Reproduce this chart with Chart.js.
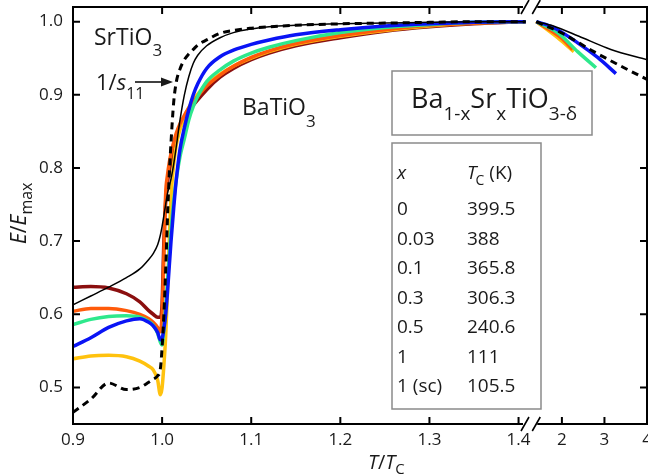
<!DOCTYPE html>
<html>
<head>
<meta charset="utf-8">
<script src="https://cdn.jsdelivr.net/npm/chart.js@4.4.1/dist/chart.umd.min.js"></script>
<style>
  html, body { margin: 0; padding: 0; background: #fff; }
  canvas { display: block; }
</style>
</head>
<body>
<canvas id="chart" width="648" height="474"></canvas>
<script>
// T/Tc grid for the left (expanded) part of the axis
const tLeft = [0.9, 0.92, 0.94, 0.96, 0.975, 0.985, 0.99, 0.995, 0.998, 1.0, 1.002, 1.004, 1.006, 1.008, 1.01, 1.013, 1.016, 1.02, 1.025, 1.03, 1.035, 1.04, 1.05, 1.065, 1.08, 1.1, 1.12, 1.15, 1.2, 1.25, 1.3, 1.35, 1.408];

// E/Emax on that grid
const eX0    = [0.637, 0.638, 0.636, 0.628, 0.617, 0.605, 0.600, 0.596, 0.596, 0.615, 0.700, 0.755, 0.780, 0.795, 0.808, 0.826, 0.840, 0.855, 0.868, 0.878, 0.886, 0.893, 0.907, 0.924, 0.936, 0.948, 0.957, 0.967, 0.978, 0.987, 0.993, 0.997, 1.0];
const eX003  = [0.604, 0.608, 0.608, 0.605, 0.600, 0.594, 0.589, 0.582, 0.576, 0.600, 0.680, 0.765, 0.790, 0.807, 0.820, 0.835, 0.848, 0.860, 0.872, 0.882, 0.890, 0.898, 0.912, 0.927, 0.939, 0.951, 0.960, 0.970, 0.981, 0.989, 0.995, 0.998, 1.0];
const eX01   = [0.539, 0.543, 0.544, 0.542, 0.536, 0.529, 0.524, 0.510, 0.490, 0.500, 0.530, 0.570, 0.630, 0.700, 0.760, 0.805, 0.832, 0.852, 0.870, 0.883, 0.893, 0.901, 0.914, 0.928, 0.939, 0.950, 0.959, 0.969, 0.980, 0.988, 0.994, 0.998, 1.0];
const eX03   = [0.586, 0.593, 0.597, 0.598, 0.596, 0.590, 0.585, 0.574, 0.562, 0.558, 0.580, 0.610, 0.645, 0.680, 0.715, 0.755, 0.785, 0.815, 0.840, 0.866, 0.884, 0.898, 0.918, 0.934, 0.946, 0.957, 0.965, 0.974, 0.985, 0.992, 0.996, 0.999, 1.0];
const eX05   = [0.556, 0.568, 0.582, 0.591, 0.594, 0.589, 0.584, 0.575, 0.565, 0.567, 0.580, 0.600, 0.630, 0.665, 0.700, 0.745, 0.785, 0.825, 0.855, 0.880, 0.900, 0.915, 0.936, 0.952, 0.961, 0.969, 0.975, 0.982, 0.989, 0.994, 0.997, 0.999, 1.0];
const eX1    = [0.613, 0.625, 0.637, 0.650, 0.662, 0.675, 0.683, 0.695, 0.708, 0.720, 0.735, 0.750, 0.765, 0.775, 0.785, 0.805, 0.830, 0.865, 0.900, 0.925, 0.943, 0.954, 0.967, 0.978, 0.985, 0.990, 0.993, 0.995, 0.997, 0.998, 0.999, 1.0, 1.0];
const eS11   = [0.466, 0.484, 0.506, 0.497, 0.500, 0.507, 0.511, 0.516, 0.525, 0.555, 0.600, 0.660, 0.730, 0.790, 0.835, 0.890, 0.918, 0.935, 0.948, 0.956, 0.962, 0.968, 0.975, 0.984, 0.988, 0.991, 0.993, 0.995, 0.997, 0.998, 0.999, 1.0, 1.0];

// compressed part of the axis (T/Tc from 1.4 to 4)
const tRX0 = [1.4, 1.8, 2.1],              eRX0 = [1.0, 0.985, 0.972];
const tRX003 = [1.4, 1.98, 2.25],          eRX003 = [1.0, 0.978, 0.962];
const tRX01 = [1.4, 1.9, 2.28],            eRX01 = [1.0, 0.978, 0.959];
const tRX03 = [1.4, 1.9, 2.37, 2.8],       eRX03 = [1.0, 0.985, 0.959, 0.937];
const tRX05 = [1.4, 1.8, 2.37, 2.84, 3.27], eRX05 = [1.0, 0.992, 0.971, 0.951, 0.929];
const tRX1 = [1.4, 1.8, 2.4, 3.15, 4.0],    eRX1 = [1.0, 0.994, 0.98, 0.962, 0.948];
const tRS11 = [1.4, 1.55, 1.98, 2.75, 3.46, 4.0], eRS11 = [1.0, 0.996, 0.985, 0.959, 0.937, 0.921];

const xTicksLeft = [0.9, 1.0, 1.1, 1.2, 1.3, 1.4];
const xTicksRight = [2, 3, 4];
const yTicks = [0.5, 0.6, 0.7, 0.8, 0.9, 1.0];

const tableX = ['0', '0.03', '0.1', '0.3', '0.5', '1', '1 (sc)'];
const tableTc = ['399.5', '388', '365.8', '306.3', '240.6', '111', '105.5'];

// axis break: right part is squeezed after 1.42
const BREAK_T = 1.4, BREAK_U = 1.42, SQUEEZE = 0.04775;
const toU = (t, right) => right ? BREAK_U + (t - BREAK_T) * SQUEEZE : t;

function series(eLeft, tR, eR) {
  const pts = tLeft.map((t, i) => ({ x: toU(t, false), y: eLeft[i] }));
  pts.push({ x: 1.414, y: null });
  tR.forEach((t, i) => pts.push({ x: toU(t, true), y: eR[i] }));
  return pts;
}

const FONT = '"Open Sans", sans-serif';
const TXT = '#1a1a1a';

function line(label, data, color, width, dash) {
  return {
    label, data,
    borderColor: color, backgroundColor: color,
    borderWidth: width, borderDash: dash || [],
    showLine: true, pointRadius: 0,
    cubicInterpolationMode: 'monotone', spanGaps: false
  };
}

function runs(ctx, x, y, parts) {
  for (const p of parts) {
    ctx.font = p.f + ' ' + FONT;
    ctx.fillText(p.t, x, y + (p.dy || 0));
    x += ctx.measureText(p.t).width + (p.gap || 0);
  }
}

const decor = {
  id: 'decor',
  afterDatasetsDraw(chart) {
    const { ctx, chartArea: a, scales: { x, y } } = chart;
    ctx.save();
    ctx.fillStyle = TXT;
    ctx.textAlign = 'left';
    ctx.textBaseline = 'alphabetic';

    // frame with the axis break
    const gL = x.getPixelForValue(1.405), gR = x.getPixelForValue(1.421);
    ctx.strokeStyle = '#000';
    ctx.lineWidth = 2;
    ctx.beginPath();
    ctx.moveTo(a.left, a.top); ctx.lineTo(a.left, a.bottom);
    ctx.moveTo(a.right, a.top); ctx.lineTo(a.right, a.bottom);
    for (const yy of [a.top, a.bottom]) {
      ctx.moveTo(a.left - 1, yy); ctx.lineTo(gL, yy);
      ctx.moveTo(gR, yy); ctx.lineTo(a.right + 1, yy);
    }
    ctx.stroke();
    ctx.lineWidth = 1.6;
    ctx.beginPath();
    for (const yy of [a.top, a.bottom]) {
      for (const cx of [gL + 2, gR - 1]) {
        ctx.moveTo(cx - 4, yy + 7); ctx.lineTo(cx + 4, yy - 7);
      }
    }
    ctx.stroke();

    // inward ticks
    ctx.lineWidth = 2;
    ctx.beginPath();
    for (const t of x.ticks) {
      const px = x.getPixelForValue(t.value);
      if (px <= a.left + 1 || px >= a.right - 1) continue;
      ctx.moveTo(px, a.bottom); ctx.lineTo(px, a.bottom - 7);
      ctx.moveTo(px, a.top); ctx.lineTo(px, a.top + 7);
    }
    for (const t of y.ticks) {
      const py = y.getPixelForValue(t.value);
      ctx.moveTo(a.left, py); ctx.lineTo(a.left + 7, py);
      ctx.moveTo(a.right, py); ctx.lineTo(a.right - 7, py);
    }
    ctx.stroke();

    // labels in the plot
    runs(ctx, 94, 45, [{ t: 'SrTiO', f: '23px' }, { t: '3', f: '17px', dy: 11 }]);
    runs(ctx, 96, 90, [{ t: '1/', f: '22px' }, { t: 's', f: 'italic 22px' }, { t: '11', f: '16px', dy: 9 }]);
    runs(ctx, 242, 115, [{ t: 'BaTiO', f: '23px' }, { t: '3', f: '17px', dy: 12 }]);

    ctx.strokeStyle = '#000';
    ctx.lineWidth = 1.5;
    ctx.beginPath(); ctx.moveTo(135, 82); ctx.lineTo(163, 82); ctx.stroke();
    ctx.beginPath(); ctx.moveTo(173, 82); ctx.lineTo(161, 77.5); ctx.lineTo(161, 86.5); ctx.closePath(); ctx.fill();

    // formula box
    ctx.fillStyle = '#fff';
    ctx.strokeStyle = '#8a8a8a';
    ctx.lineWidth = 1.5;
    ctx.fillRect(392, 71, 200, 64); ctx.strokeRect(392, 71, 200, 64);
    ctx.fillRect(392, 143, 149, 266); ctx.strokeRect(392, 143, 149, 266);
    ctx.fillStyle = TXT;
    runs(ctx, 411, 108, [
      { t: 'Ba', f: '27px' }, { t: '1-x', f: '19px', dy: 12 },
      { t: 'Sr', f: '27px' }, { t: 'x', f: '19px', dy: 12 },
      { t: 'TiO', f: '27px' }, { t: '3-δ', f: '19px', dy: 12 }
    ]);

    // table
    runs(ctx, 397, 179, [{ t: 'x', f: 'italic 19px' }]);
    runs(ctx, 467, 179, [{ t: 'T', f: 'italic 19px', gap: -1 }, { t: 'C', f: '14px', dy: 6, gap: 5 }, { t: '(K)', f: '19px' }]);
    ctx.font = '19px ' + FONT;
    tableX.forEach((s, i) => {
      const by = 215 + i * 29.5;
      ctx.fillText(s, 397, by);
      ctx.fillText(tableTc[i], 467, by);
    });

    // axis titles
    runs(ctx, 368, 469, [{ t: 'T', f: 'italic 20px' }, { t: '/', f: '20px' }, { t: 'T', f: 'italic 20px' }, { t: 'C', f: '15px', dy: 5 }]);
    ctx.save();
    ctx.translate(26, 244);
    ctx.rotate(-Math.PI / 2);
    runs(ctx, 0, 0, [{ t: 'E', f: 'italic 21px' }, { t: '/', f: '21px' }, { t: 'E', f: 'italic 21px' }, { t: 'max', f: '16px', dy: 6 }]);
    ctx.restore();

    ctx.restore();
  }
};

const xTickU = xTicksLeft.map(t => toU(t, false)).concat(xTicksRight.map(t => toU(t, true)));
const xTickLabels = xTicksLeft.map(t => t.toFixed(1)).concat(xTicksRight.map(String));

new Chart(document.getElementById('chart'), {
  type: 'scatter',
  data: {
    datasets: [
      line('1 (sc)', series(eS11, tRS11, eRS11), '#000000', 3, [7, 5]),
      line('1', series(eX1, tRX1, eRX1), '#000000', 1.5),
      line('0.5', series(eX05, tRX05, eRX05), '#0a14f5', 3.5),
      line('0.3', series(eX03, tRX03, eRX03), '#2ee88c', 3.5),
      line('0.03', series(eX003, tRX003, eRX003), '#ff5a0a', 3.5),
      line('0.1', series(eX01, tRX01, eRX01), '#ffc20e', 3.5),
      line('0', series(eX0, tRX0, eRX0), '#8b0f0f', 3.5)
    ]
  },
  options: {
    responsive: false,
    animation: false,
    devicePixelRatio: 1,
    layout: { padding: { top: 7, right: 1, left: 0, bottom: 0 } },
    plugins: { legend: { display: false }, tooltip: { enabled: false } },
    scales: {
      x: {
        type: 'linear',
        min: 0.9,
        max: toU(4, true),
        grid: { display: false, drawTicks: false },
        border: { display: false },
        afterBuildTicks: s => { s.ticks = xTickU.map(v => ({ value: v })); },
        afterFit: s => { s.height = 50; s.paddingLeft = 0; s.paddingRight = 0; },
        ticks: {
          autoSkip: false, maxRotation: 0, padding: 6, color: TXT,
          font: { family: FONT, size: 17 },
          callback: (v, i) => xTickLabels[i]
        }
      },
      y: {
        min: 0.45,
        max: 1.02,
        grid: { display: false, drawTicks: false },
        border: { display: false },
        afterBuildTicks: s => { s.ticks = yTicks.map(v => ({ value: v })); },
        afterFit: s => { s.width = 73; s.paddingTop = 0; s.paddingBottom = 0; },
        ticks: {
          padding: 10, color: TXT,
          font: { family: FONT, size: 17 },
          callback: v => v.toFixed(1)
        }
      }
    }
  },
  plugins: [decor]
});
</script>
</body>
</html>
